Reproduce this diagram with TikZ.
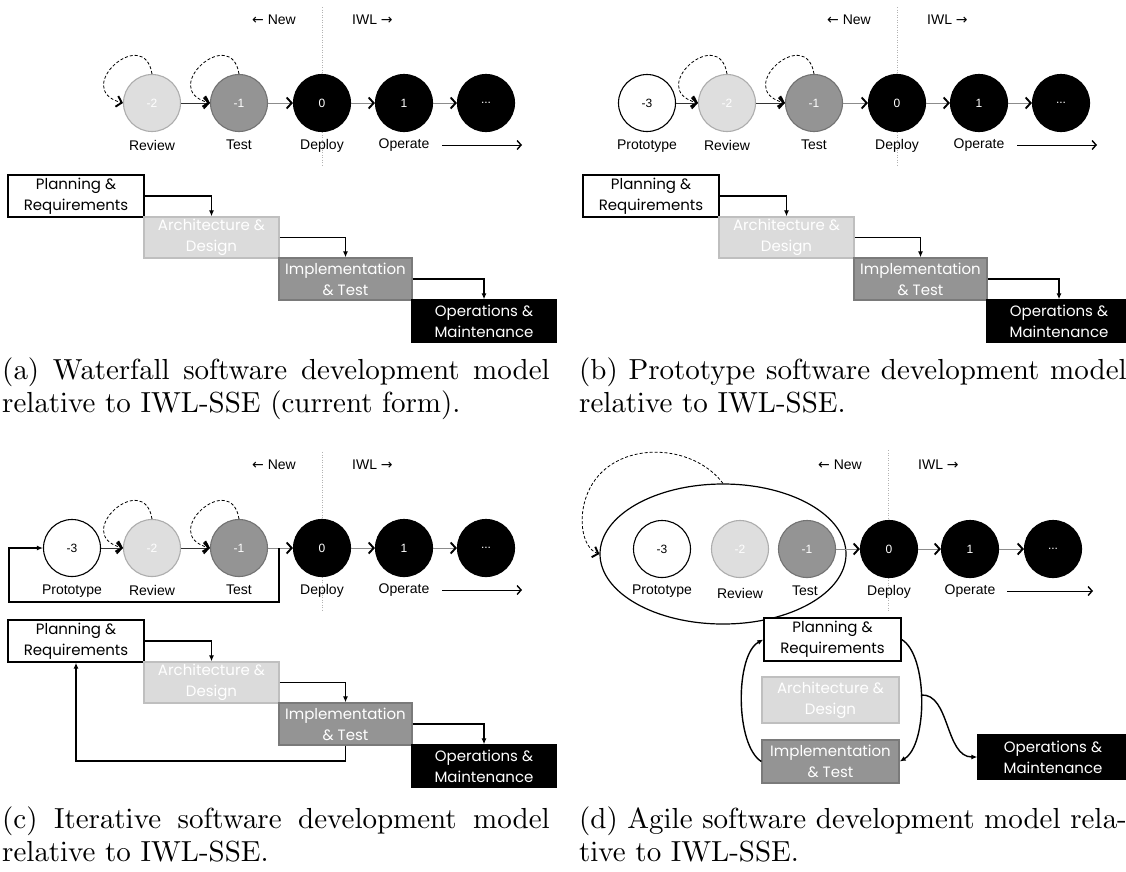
\documentclass[tikz,border=0pt]{standalone}
\usepackage{fontspec}
\usetikzlibrary{arrows.meta,shapes.geometric}
\newfontfamily\lsans{Liberation Sans}
\newfontfamily\gothic{Poppins}
\newfontfamily\symfont{DejaVu Sans}
\font\capfont=cmr10 at 29pt

\tikzset{
  x=1pt, y=-1pt,
  phase/.style={circle, minimum size=57pt, inner sep=0pt, line width=1.1pt,
    font=\lsans\fontsize{12}{14}\selectfont},
  pwhite/.style={phase, draw=black, fill=white, text=black},
  plight/.style={phase, draw=black!32, fill=black!13, text=white},
  pmid/.style={phase, draw=black!55, fill=black!42, text=white},
  pdark/.style={phase, draw=black, fill=black, text=white},
  plabel/.style={font=\lsans\fontsize{14}{16}\selectfont, inner sep=0pt},
  tag/.style={font=\lsans\fontsize{14}{16}\selectfont, inner sep=0pt},
  barbtip/.tip={Straight Barb[length=5pt, width=11pt, line width=1.9pt, color=black]},
  flowdark/.style={line width=1pt, draw=black!80, -barbtip},
  flowgray/.style={line width=1pt, draw=black!45, -barbtip},
  thinarrow/.style={line width=0.9pt, -{Straight Barb[length=4pt, width=9pt, line width=1.4pt]}},
  loopd/.style={line width=0.8pt, dash pattern=on 3pt off 2pt, -barbtip},
  sep/.style={draw=black!30, line width=0.7pt, dash pattern=on 1pt off 1.5pt},
  stage/.style={rectangle, inner sep=0pt, line width=1.3pt, align=center,
    font=\gothic\fontsize{15}{21}\selectfont},
  swhite/.style={stage, draw=black, fill=white, text=black},
  slight/.style={stage, draw=black!25, fill=black!14, text=white},
  smid/.style={stage, draw=black!52, fill=black!42, text=white},
  sdark/.style={stage, draw=black, fill=black, text=white},
  link/.style={line width=1.4pt, -{Latex[length=6pt, width=5pt]}},
  captext/.style={anchor=base west, inner sep=0pt}
}

% phase circles Review ... with the New/IWL divider
\newcommand\phaserow[1]{%
  \coordinate (#1Lt) at (322,7);
  \coordinate (#1Lb) at (322,167);
  \draw[sep] (#1Lt) -- (#1Lb);
  \node[tag, anchor=east] (#1New) at (296,20) {{\symfont ←} New};
  \node[tag, anchor=west] (#1Iwl) at (352,20) {IWL {\symfont →}};
  \node[plight] (#1R) at (152,103) {-2};
  \node[pmid] (#1T) at (239,103) {-1};
  \node[pdark] (#1D) at (322,103) {0};
  \node[pdark] (#1O) at (404,103) {1};
  \node[pdark] (#1E) at (486,103) {...};
  \node[plabel] (#1Rl) at (152,145) {Review};
  \node[plabel] (#1Tl) at (239,145) {Test};
  \node[plabel] (#1Dl) at (322,146) {Deploy};
  \node[plabel] (#1Ol) at (404,145) {Operate};
  \coordinate (#1As) at (442,145);
  \coordinate (#1Ae) at (522,145);
  \draw[thinarrow] (#1As) -- (#1Ae);
  \draw[flowdark] (#1R) -- (#1T);
  \draw[flowgray] (#1T) -- (#1D);
  \draw[flowgray] (#1D) -- (#1O);
  \draw[flowgray] (#1O) -- (#1E);
  \draw[loopd] (#1R.north) .. controls +(-8,-50) and +(-52,-14) .. (#1R.west);
  \draw[loopd] (#1T.north) .. controls +(-8,-50) and +(-52,-14) .. (#1T.west);
}

% prototype circle in front of the row
\newcommand\protophase[1]{%
  \node[pwhite] (#1X) at (72,103) {-3};
  \node[plabel] (#1Xl) at (72,146) {Prototype};
  \draw[flowdark] (#1X) -- (#1R);
}

% waterfall staircase of stages
\newcommand\stages[1]{%
  \node[swhite, minimum width=136pt, minimum height=42pt] (#1P) at (76,196) {Planning \&\\Requirements};
  \node[slight, minimum width=135pt, minimum height=41pt] (#1A) at (211.5,237.5) {Architecture \&\\Design};
  \node[smid, minimum width=133pt, minimum height=42pt] (#1I) at (345.5,279) {Implementation\\\& Test};
  \node[sdark, minimum width=144pt, minimum height=42pt] (#1M) at (484,321) {Operations \&\\Maintenance};
  \draw[link] (#1P.east) -| (#1A.north);
  \draw[link] (#1A.east) -| (#1I.north);
  \draw[link] (#1I.east) -| (#1M.north);
}

\begin{document}
\begin{tikzpicture}
\useasboundingbox (0,0) rectangle (1126,871);

% ---------- (a) waterfall ----------
\phaserow{a}
\stages{a}
\node[captext] (capA) at (2,379) {\parbox[t]{548pt}{\capfont\baselineskip=33.5pt\tolerance=10000
  (a) Waterfall software development model\linebreak relative to IWL-SSE (current form).}};

% ---------- (b) prototype ----------
\begin{scope}[shift={(575,0)}]
  \phaserow{b}
  \protophase{b}
  \stages{b}
\end{scope}
\node[captext] (capB) at (579,379) {\parbox[t]{548pt}{\capfont\baselineskip=33.5pt\tolerance=10000
  (b) Prototype software development model\linebreak relative to IWL-SSE.}};

% ---------- (c) iterative ----------
\begin{scope}[shift={(0,445)}]
  \phaserow{c}
  \protophase{c}
  \coordinate (cFb) at (279,103);
  \coordinate (cFl) at (9,157);
  \draw[line width=1.2pt, -{Latex[length=6pt, width=5pt]}] (cFb) |- (cFl) |- (cX.west);
  \stages{c}
  \coordinate (cIb) at (345.5,316);
  \draw[link] (cI.south) -- (cIb) -| (cP.south);
\end{scope}
\node[captext] (capC) at (2,828) {\parbox[t]{548pt}{\capfont\baselineskip=33.5pt\tolerance=10000
  (c) Iterative software development model\linebreak relative to IWL-SSE.}};

% ---------- (d) agile ----------
\coordinate (dLt) at (888,450);
\coordinate (dLb) at (888,612);
\draw[sep] (dLt) -- (dLb);
\node[tag, anchor=east] (dNew) at (862,465) {{\symfont ←} New};
\node[tag, anchor=west] (dIwl) at (918,465) {IWL {\symfont →}};
\node[draw, ellipse, line width=1.2pt, minimum width=246pt, minimum height=140pt, inner sep=0pt] (dG) at (723,554) {};
\node[pwhite] (dX) at (662,549) {-3};
\node[plight] (dR) at (740,549) {-2};
\node[pmid] (dT) at (807,549) {-1};
\node[pdark] (dD) at (889,549) {0};
\node[pdark] (dO) at (970,549) {1};
\node[pdark] (dE) at (1053,549) {...};
\node[plabel] (dXl) at (662,591) {Prototype};
\node[plabel] (dRl) at (740,593) {Review};
\node[plabel] (dTl) at (805,591) {Test};
\node[plabel] (dDl) at (889,592) {Deploy};
\node[plabel] (dOl) at (970,591) {Operate};
\coordinate (dAs) at (1007,591);
\coordinate (dAe) at (1093,591);
\draw[thinarrow] (dAs) -- (dAe);
\draw[flowgray] (dT) -- (dD);
\draw[flowgray] (dD) -- (dO);
\draw[flowgray] (dO) -- (dE);
\draw[loopd] (dG.north) .. controls (692,442) and (615,440) .. (590,488)
  .. controls (576,515) and (582,548) .. (dG.west);

\node[swhite, minimum width=137pt, minimum height=43pt] (dP) at (832.5,639.5) {Planning \&\\Requirements};
\node[slight, minimum width=137pt, minimum height=46pt] (dA) at (830.5,700) {Architecture \&\\Design};
\node[smid, minimum width=137pt, minimum height=43pt] (dI) at (830.5,761.5) {Implementation\\\& Test};
\node[sdark, minimum width=150pt, minimum height=44pt] (dM) at (1053,757) {Operations \&\\Maintenance};
\draw[link] (dI.west) .. controls (735,745) and (735,655) .. (dP.west);
\draw[link] (dP.east) .. controls (928,655) and (928,745) .. (dI.east);
\coordinate (dBr) at (921,695);
\draw[link] (dBr) .. controls (950,693) and (945,757) .. (dM.west);
\node[captext] (capD) at (579,828) {\parbox[t]{548pt}{\capfont\baselineskip=33.5pt\tolerance=10000
  (d) Agile software development model rela-\linebreak tive to IWL-SSE.}};
\end{tikzpicture}
\end{document}
